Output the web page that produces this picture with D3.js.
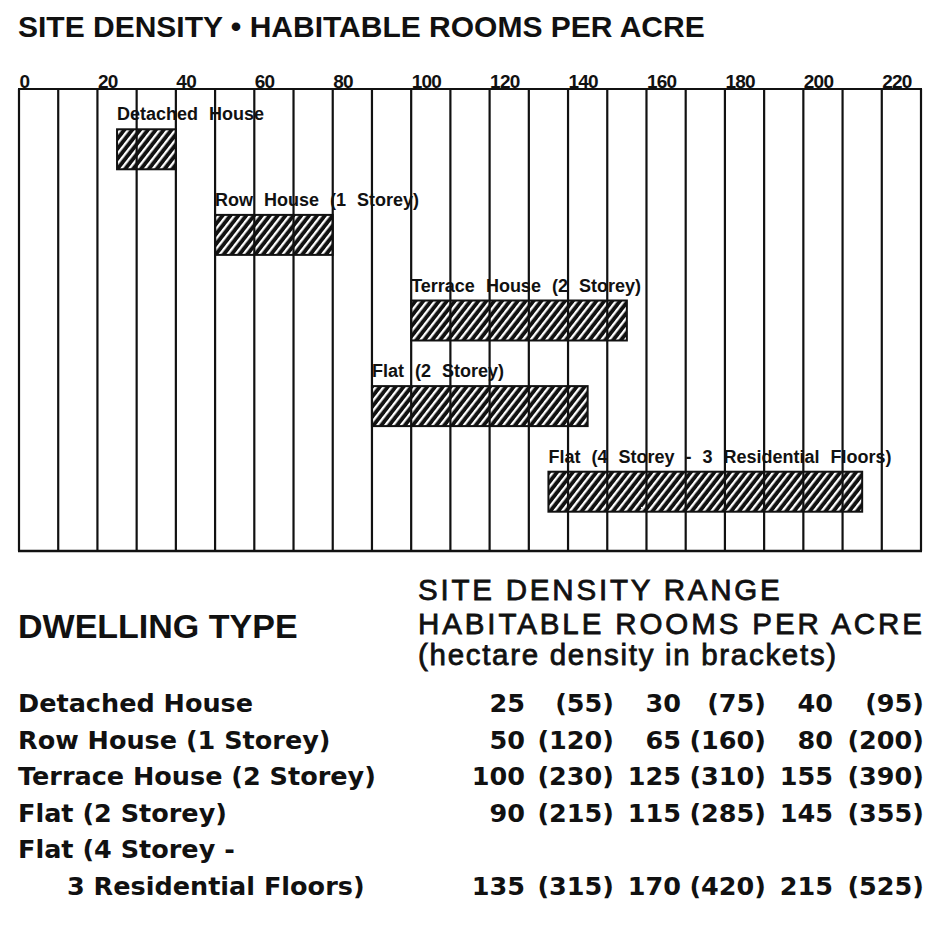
<!DOCTYPE html>
<html>
<head>
<meta charset="utf-8">
<script src="https://cdn.jsdelivr.net/npm/d3@7"></script>
<style>
  html, body { margin: 0; padding: 0; background: #fff; }
  svg { display: block; }
</style>
</head>
<body>
<div id="chart"></div>
<script>
// ---------- DATA ----------
const chartTitle = "SITE DENSITY \u2022 HABITABLE ROOMS PER ACRE";
const dwellingTypes = [
  "Detached House",
  "Row House (1 Storey)",
  "Terrace House (2 Storey)",
  "Flat (2 Storey)",
  "Flat (4 Storey - 3 Residential Floors)"
];
// table labels (the last one wraps onto two lines)
const tableLabels = [
  ["Detached House"],
  ["Row House (1 Storey)"],
  ["Terrace House (2 Storey)"],
  ["Flat (2 Storey)"],
  ["Flat (4 Storey -", "3 Residential Floors)"]
];
// habitable rooms per acre
const lowAcre  = [25, 50, 100, 90, 135];
const midAcre  = [30, 65, 125, 115, 170];
const highAcre = [40, 80, 155, 145, 215];
// hectare density (in brackets)
const lowHa  = [55, 120, 230, 215, 315];
const midHa  = [75, 160, 310, 285, 420];
const highHa = [95, 200, 390, 355, 525];
// axis
const tickLabels = [0, 20, 40, 60, 80, 100, 120, 140, 160, 180, 200, 220];
const gridValues = d3.range(0, 231, 10);
const headerLines = ["SITE DENSITY RANGE", "HABITABLE ROOMS PER ACRE", "(hectare density in brackets)"];
const dwellingHeader = "DWELLING TYPE";

// ---------- LAYOUT ----------
const W = 949, H = 926;
const ink = "#111";
const svg = d3.select("#chart").append("svg").attr("width", W).attr("height", H);
svg.append("rect").attr("width", W).attr("height", H).attr("fill", "#fff");

const plotTop = 89, plotBottom = 551;
const x = d3.scaleLinear().domain([0, 230]).range([19, 921]);
const y = d3.scaleBand().domain(dwellingTypes).range([129.3, 511.7]).paddingInner(0.533).paddingOuter(0);

// hatch pattern
const defs = svg.append("defs");
const pat = defs.append("pattern")
  .attr("id", "hatch").attr("patternUnits", "userSpaceOnUse")
  .attr("width", 6.2).attr("height", 10)
  .attr("patternTransform", "rotate(38)");
pat.append("rect").attr("width", 6.2).attr("height", 10).attr("fill", ink);
pat.append("rect").attr("x", 0).attr("width", 2.3).attr("height", 10).attr("fill", "#fff");

// title
svg.append("text")
  .attr("x", 18).attr("y", 37)
  .attr("font-family", "'Liberation Sans', Arial, sans-serif")
  .attr("font-weight", "bold").attr("font-size", 30)
  .attr("fill", ink)
  .text(chartTitle);

// bars
const barsG = svg.append("g");
barsG.selectAll("rect.bar").data(dwellingTypes).join("rect")
  .attr("class", "bar")
  .attr("x", (d, i) => x(lowAcre[i]))
  .attr("y", d => y(d))
  .attr("width", (d, i) => x(highAcre[i]) - x(lowAcre[i]))
  .attr("height", y.bandwidth())
  .attr("fill", "url(#hatch)")
  .attr("stroke", ink).attr("stroke-width", 2);

// gridlines
svg.append("g").selectAll("line").data(gridValues).join("line")
  .attr("x1", d => x(d)).attr("x2", d => x(d))
  .attr("y1", plotTop).attr("y2", plotBottom)
  .attr("stroke", ink).attr("stroke-width", 2.2);
// top and bottom frame lines
svg.append("line").attr("x1", x(0) - 1).attr("x2", x(230) + 1)
  .attr("y1", plotTop).attr("y2", plotTop).attr("stroke", ink).attr("stroke-width", 2.2);
svg.append("line").attr("x1", x(0) - 1).attr("x2", x(230) + 1)
  .attr("y1", plotBottom).attr("y2", plotBottom).attr("stroke", ink).attr("stroke-width", 2.6);

// bar labels
barsG.selectAll("text.lbl").data(dwellingTypes).join("text")
  .attr("class", "lbl")
  .attr("x", (d, i) => x(lowAcre[i]))
  .attr("y", d => y(d) - 9)
  .attr("font-family", "'Liberation Sans', Arial, sans-serif")
  .attr("font-weight", "bold").attr("font-size", 18)
  .attr("word-spacing", 6)
  .attr("fill", ink)
  .text(d => d);

// top axis (labels only)
const axis = d3.axisTop(x).tickValues(tickLabels).tickSize(0).tickPadding(1).tickFormat(d3.format("d"));
const axG = svg.append("g").attr("transform", `translate(0,${plotTop})`).call(axis);
axG.select(".domain").remove();
axG.selectAll("text")
  .attr("text-anchor", "start")
  .attr("dy", 0)
  .attr("font-family", "'Liberation Sans', Arial, sans-serif")
  .attr("font-weight", "bold").attr("font-size", 19)
  .attr("letter-spacing", -0.8)
  .attr("fill", ink);

// ---------- TABLE ----------
const tableFont = "'DejaVu Sans', Verdana, sans-serif";
svg.append("text")
  .attr("x", 18).attr("y", 638)
  .attr("font-family", "'Liberation Sans', Arial, sans-serif")
  .attr("font-weight", "bold").attr("font-size", 34)
  .attr("fill", ink)
  .text(dwellingHeader);

const headerY = [600, 634, 665];
const headerSpacing = [2.8, 2.9, 1.7];
svg.append("g").selectAll("text").data(headerLines).join("text")
  .attr("x", 418).attr("y", (d, i) => headerY[i])
  .attr("font-family", "'Liberation Sans', Arial, sans-serif")
  .attr("font-size", 29.5)
  .attr("letter-spacing", (d, i) => headerSpacing[i])
  .attr("fill", ink).attr("stroke", ink).attr("stroke-width", 0.8)
  .text(d => d);

// row lines
const lineY = d3.scaleLinear().domain([0, 5]).range([712, 895]);
let lineIdx = 0;
const rows = [];
tableLabels.forEach((lines, i) => {
  lines.forEach((t, j) => {
    rows.push({ text: t, line: lineIdx, indent: j > 0 });
    lineIdx++;
  });
  rows[rows.length - 1].valueRow = i;
});

const tbl = svg.append("g")
  .attr("font-family", tableFont).attr("font-weight", "bold")
  .attr("font-size", 25.5).attr("fill", ink);

tbl.selectAll("text.rowlbl").data(rows).join("text")
  .attr("class", "rowlbl")
  .attr("x", d => d.indent ? 67 : 18)
  .attr("y", d => lineY(d.line))
  .text(d => d.text);

const colRight = [525, 614, 681, 766, 833, 924];
const valueRows = rows.filter(r => r.valueRow !== undefined);
valueRows.forEach(r => {
  const i = r.valueRow;
  const vals = [lowAcre[i], `(${lowHa[i]})`, midAcre[i], `(${midHa[i]})`, highAcre[i], `(${highHa[i]})`];
  tbl.append("g").selectAll("text").data(vals).join("text")
    .attr("x", (d, k) => colRight[k])
    .attr("y", lineY(r.line))
    .attr("text-anchor", "end")
    .text(d => d);
});
</script>
</body>
</html>
